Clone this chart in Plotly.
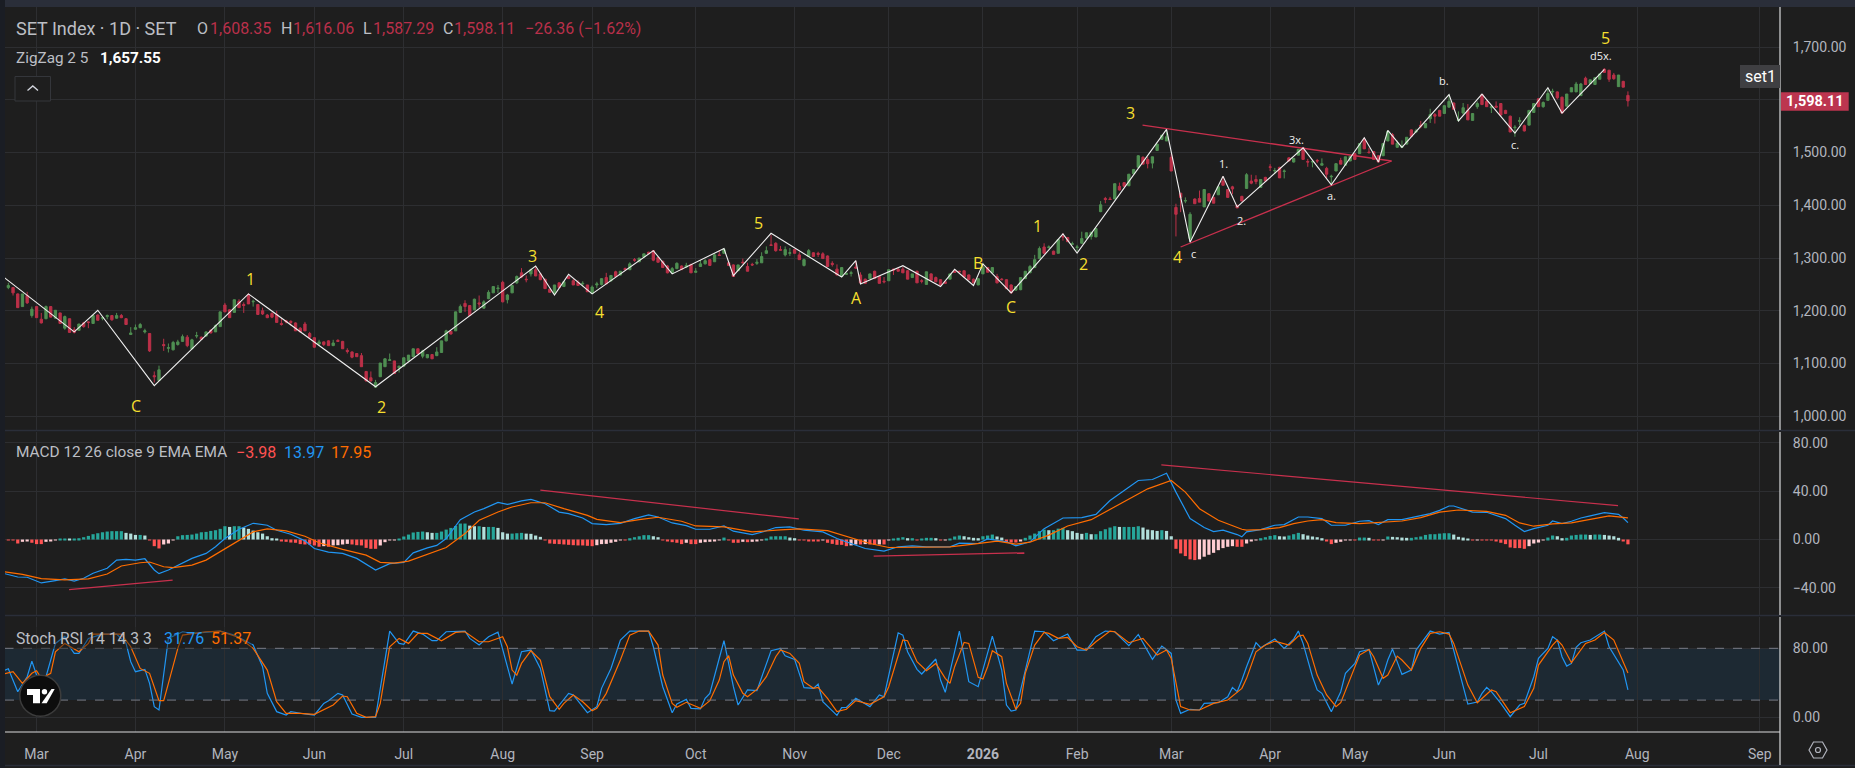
import plotly.graph_objects as go

W, H = 1855, 768
BG = "#1e1e1e"
GRID = "#2d2e31"
AXIS_TXT = "#b2b5be"
GREEN = "#4f8f52"
RED = "#bb3048"
TREND = "#c8304d"
BLUE = "#2196f3"
ORANGE = "#ff6d00"
YELLOW = "#f5df2e"
FONT = "Roboto"

month_bars = [6, 27, 46, 65, 84, 105, 124, 146, 167, 187, 207, 227, 247, 268, 286, 305, 325, 346, 372]
month_labels = ["Mar", "Apr", "May", "Jun", "Jul", "Aug", "Sep", "Oct", "Nov", "Dec", "<b>2026</b>", "Feb", "Mar",
                "Apr", "May", "Jun", "Jul", "Aug", "Sep"]

opens = [1244,1244,1232,1208,1229,1191,1208,1184,1185,1208,
1186,1196,1167,1185,1164,1163,1177,1179,1176,1192,
1186,1189,1191,1186,1191,1185,1155,1165,1168,1160,
1157,1077,1068,1136,1129,1126,1136,1142,1150,1128,
1152,1150,1152,1163,1160,1170,1211,1202,1197,1218,
1212,1230,1217,1212,1200,1192,1195,1193,1176,1181,
1180,1177,1167,1175,1157,1149,1137,1141,1143,1134,
1144,1142,1125,1122,1119,1115,1085,1073,1055,1075,
1094,1106,1105,1092,1095,1105,1113,1128,1114,1111,
1117,1115,1121,1143,1161,1162,1197,1214,1210,1202,
1215,1205,1223,1234,1242,1254,1221,1234,1253,1272,
1260,1270,1278,1270,1260,1241,1233,1253,1246,1265,
1257,1254,1251,1249,1233,1249,1250,1263,1257,1274,
1268,1280,1278,1297,1293,1302,1311,1314,1301,1294,
1285,1272,1280,1285,1283,1288,1273,1284,1289,1297,
1293,1306,1309,1291,1287,1276,1292,1284,1288,1290,
1291,1309,1325,1328,1316,1306,1309,1316,1306,1286,
1303,1310,1309,1308,1304,1290,1279,1265,1269,1271,
1283,1268,1260,1261,1275,1265,1256,1257,1279,1279,
1279,1276,1263,1275,1257,1250,1270,1263,1259,1255,
1260,1275,1275,1276,1268,1260,1249,1270,1282,1272,
1265,1260,1259,1249,1239,1240,1261,1272,1282,1299,
1321,1320,1313,1309,1341,1339,1326,1320,1328,1338,
1341,1340,1388,1413,1412,1412,1436,1443,1437,1460,
1472,1491,1487,1480,1504,1525,1522,1491,1396,1423,
1408,1337,1412,1413,1397,1422,1415,1420,1446,1430,
1435,1400,1417,1432,1446,1449,1434,1453,1473,1465,
1472,1464,1490,1482,1495,1509,1483,1482,1485,1476,
1470,1454,1465,1485,1476,1484,1498,1498,1525,1501,
1502,1494,1494,1522,1534,1510,1510,1516,1543,1539,
1552,1547,1564,1572,1580,1574,1586,1594,1561,1575,
1580,1561,1587,1610,1597,1585,1588,1593,1580,1569,
1547,1559,1551,1552,1576,1602,1587,1599,1615,1615,
1605,1588,1615,1615,1608,1641,1631,1629,1639,1658,
1656,1647,1625,1635,1608.35]

highs = [1253,1245,1233,1232,1236,1208,1208,1196,1210,1209,
1201,1196,1191,1185,1169,1175,1179,1180,1191,1193,
1188,1193,1192,1196,1194,1186,1169,1174,1177,1166,
1157,1085,1096,1147,1138,1143,1145,1155,1154,1147,
1160,1151,1161,1165,1174,1198,1215,1203,1221,1222,
1216,1233,1221,1212,1206,1194,1197,1200,1186,1183,
1182,1178,1169,1179,1160,1150,1145,1142,1144,1145,
1146,1143,1129,1123,1120,1120,1086,1085,1069,1101,
1110,1119,1105,1096,1111,1116,1128,1128,1126,1117,
1117,1131,1143,1164,1161,1198,1212,1220,1210,1223,
1229,1220,1239,1246,1249,1257,1232,1248,1267,1281,
1267,1280,1284,1272,1260,1241,1249,1254,1255,1266,
1260,1258,1256,1249,1248,1255,1262,1272,1268,1276,
1275,1282,1292,1300,1300,1308,1312,1314,1302,1295,
1287,1283,1292,1286,1291,1289,1281,1296,1298,1298,
1309,1314,1319,1293,1288,1287,1299,1291,1291,1298,
1311,1322,1344,1330,1323,1322,1319,1317,1311,1299,
1317,1311,1312,1311,1305,1294,1288,1282,1272,1276,
1295,1273,1261,1270,1276,1266,1264,1278,1280,1281,
1283,1277,1270,1276,1260,1274,1271,1265,1260,1256,
1270,1279,1276,1276,1269,1261,1261,1291,1283,1282,
1270,1262,1260,1250,1246,1264,1275,1287,1306,1322,
1328,1324,1314,1335,1347,1340,1331,1325,1350,1348,
1349,1356,1408,1416,1416,1441,1443,1444,1459,1468,
1495,1493,1492,1492,1516,1533,1544,1498,1403,1423,
1415,1387,1413,1428,1430,1423,1416,1435,1455,1431,
1437,1401,1418,1461,1458,1457,1449,1454,1478,1471,
1473,1468,1491,1489,1506,1510,1488,1486,1488,1489,
1473,1458,1479,1490,1492,1493,1499,1517,1528,1509,
1503,1495,1517,1542,1537,1523,1523,1529,1544,1545,
1560,1555,1583,1575,1581,1589,1610,1595,1578,1594,
1592,1574,1597,1611,1600,1590,1597,1594,1581,1570,
1552,1567,1553,1580,1593,1603,1597,1621,1621,1616,
1606,1611,1623,1634,1632,1644,1638,1642,1649,1660,
1657,1651,1647,1636,1616.06]

lows = [1241,1229,1206,1208,1213,1187,1187,1176,1184,1188,
1185,1176,1164,1159,1157,1162,1168,1167,1176,1182,
1182,1184,1181,1185,1186,1174,1155,1164,1167,1157,
1122,1064,1067,1124,1121,1125,1134,1141,1131,1127,
1148,1145,1151,1157,1160,1170,1198,1187,1197,1206,
1196,1213,1208,1193,1192,1186,1186,1177,1172,1176,
1172,1162,1160,1162,1148,1130,1133,1133,1134,1133,
1141,1128,1119,1110,1113,1094,1066,1066,1054,1075,
1094,1105,1081,1083,1095,1105,1113,1119,1110,1110,
1109,1114,1121,1142,1155,1162,1196,1198,1191,1201,
1206,1204,1222,1234,1234,1216,1214,1234,1251,1262,
1254,1265,1266,1258,1242,1235,1233,1244,1246,1261,
1249,1248,1246,1236,1232,1243,1248,1251,1255,1264,
1267,1277,1277,1293,1292,1301,1308,1294,1292,1282,
1271,1271,1279,1278,1281,1272,1272,1283,1288,1286,
1293,1304,1308,1286,1265,1276,1290,1275,1285,1287,
1291,1308,1323,1312,1315,1303,1304,1309,1297,1284,
1303,1303,1302,1299,1284,1284,1267,1265,1268,1265,
1280,1252,1252,1261,1261,1252,1252,1257,1268,1275,
1272,1260,1263,1253,1252,1250,1258,1254,1248,1251,
1260,1272,1273,1264,1259,1253,1249,1270,1273,1272,
1252,1258,1242,1233,1239,1239,1261,1272,1281,1298,
1308,1318,1307,1309,1333,1331,1325,1313,1327,1337,
1335,1340,1387,1404,1410,1412,1428,1436,1437,1460,
1472,1478,1470,1470,1504,1525,1522,1465,1341,1387,
1404,1330,1403,1406,1397,1408,1404,1420,1438,1415,
1421,1395,1408,1431,1440,1440,1434,1446,1465,1460,
1452,1451,1484,1481,1495,1487,1473,1472,1480,1476,
1451,1439,1465,1478,1476,1484,1487,1498,1507,1498,
1487,1482,1494,1522,1516,1509,1509,1516,1531,1537,
1546,1547,1556,1555,1569,1574,1586,1582,1559,1572,
1562,1561,1583,1591,1587,1575,1585,1571,1573,1539,
1530,1552,1540,1552,1576,1587,1585,1599,1607,1601,
1575,1588,1615,1615,1608,1629,1631,1629,1639,1652,
1634,1638,1625,1624,1587.29]

closes = [1248,1234,1206,1232,1215,1203,1187,1177,1208,1188,
1201,1176,1189,1159,1159,1175,1170,1178,1191,1182,
1187,1191,1183,1191,1187,1174,1158,1168,1174,1162,
1124,1075,1088,1134,1130,1140,1141,1151,1134,1145,
1153,1146,1160,1158,1172,1198,1198,1187,1221,1206,
1210,1213,1218,1193,1194,1187,1188,1178,1174,1179,
1178,1162,1160,1162,1150,1131,1141,1136,1134,1139,
1142,1128,1123,1112,1113,1094,1067,1067,1064,1101,
1109,1107,1081,1095,1111,1116,1128,1119,1124,1117,
1109,1122,1143,1162,1156,1198,1208,1208,1191,1222,
1213,1217,1235,1246,1243,1217,1230,1248,1265,1264,
1259,1278,1266,1259,1242,1235,1249,1244,1255,1261,
1249,1248,1252,1236,1245,1251,1261,1251,1267,1265,
1275,1278,1289,1296,1300,1308,1308,1296,1292,1282,
1272,1280,1290,1278,1286,1272,1275,1289,1295,1286,
1306,1305,1316,1286,1265,1287,1291,1275,1287,1292,
1303,1314,1324,1314,1315,1316,1310,1309,1297,1297,
1314,1303,1307,1299,1284,1288,1268,1282,1271,1272,
1281,1253,1252,1270,1261,1252,1255,1278,1277,1275,
1272,1260,1270,1253,1256,1274,1258,1255,1249,1252,
1270,1273,1274,1264,1259,1253,1261,1283,1273,1282,
1253,1259,1242,1234,1246,1263,1275,1284,1297,1318,
1309,1321,1307,1335,1340,1331,1327,1321,1337,1348,
1349,1356,1401,1411,1411,1441,1429,1436,1459,1468,
1494,1478,1479,1492,1516,1533,1530,1465,1383,1415,
1409,1383,1403,1406,1430,1408,1404,1435,1438,1415,
1431,1395,1408,1458,1442,1445,1449,1446,1472,1466,
1452,1465,1484,1489,1506,1487,1482,1483,1484,1479,
1459,1455,1479,1478,1492,1493,1487,1517,1507,1500,
1487,1482,1517,1540,1516,1518,1512,1529,1531,1541,
1550,1555,1572,1569,1569,1589,1597,1582,1562,1585,
1562,1574,1593,1591,1587,1587,1586,1571,1574,1539,
1548,1561,1541,1580,1593,1587,1595,1612,1616,1604,
1575,1611,1623,1630,1630,1629,1638,1642,1649,1652,
1639,1640,1647,1624,1598.11]

zigzag_bars = [-1,14,19,31,51,78,112,116,119,124,137,141,152,154,162,177,180,181,190,198,201,205,207,213,224,227,
               246,251,258,261,275,281,288,291,293,296,306,308,313,320,327,330,339]
zigzag_vals = [1264,1160,1201,1058,1232,1056,1285,1230,1269,1232,1314,1270,1318,1266.5,1347,1264,1295,1251,1285.5,1246,
               1278.5,1248,1289,1234,1346,1309.5,1544,1330,1455,1397,1509,1439,1528,1482,1542,1510,1610,1560,1611,1537,
               1623,1575,1657.55]

wedge_upper_bars = [240.9, 293.8]
wedge_upper_vals = [1552, 1484]
wedge_lower_bars = [249, 293.8]
wedge_lower_vals = [1321, 1484]

yellow_texts = ["C", "1", "2", "3", "4", "5", "A", "B", "C", "1", "2", "3", "4", "5"]
yellow_bars = [27.2, 51.4, 79.3, 111.3, 125.5, 159.4, 180.2, 206, 213, 218.5, 228.3, 238.3, 248.3, 339.2]
yellow_vals = [1019.5, 1260.5, 1017, 1304.5, 1198.3, 1367, 1224.8, 1291.2, 1207.8, 1361.3, 1288.2, 1575.5, 1302.6, 1717.7]
white_texts = ["c", "1.", "2.", "3x.", "a.", "b.", "c.", "d5x."]
white_bars = [251.8, 258.2, 262, 273.6, 281.1, 305, 320.1, 338.3]
white_vals = [1309, 1479.6, 1370.8, 1525.1, 1419, 1636.2, 1516.2, 1683.6]

macd_bars = [-1,2,4,7,10,12,14,16,18,21,23,25,27,29,31,32,34,37,39,42,44,46,49,52,55,57,60,63,65,68,71,74,76,78,81,84,86,89,91,93,96,99,101,104,106,109,111,114,117,119,122,124,127,
             130,133,136,138,141,144,146,149,152,154,158,160,163,166,169,173,176,179,182,186,189,192,195,200,202,206,208,212,214,217,220,224,228,231,234,237,240,243,246,248,251,254,256,258,
             261,262,263,266,269,271,274,276,279,281,284,287,289,291,293,296,298,302,304,306,307,309,311,314,318,320,322,324,327,328,330,332,334,336,339,342,343,344]
macd_vals = [-28,-31,-31.2,-35.9,-34,-32.6,-34.3,-32,-27.9,-23.8,-17,-16.4,-17,-15.9,-25.2,-28.2,-25.2,-19.7,-15.6,-11.5,-6,0.8,8.5,13.4,11.8,7.7,4.4,-1.1,-7.4,-10.4,-11.5,-15.6,-20.6,-25.2,-20,-18.9,-11,-6.9,-4.9,0.8,16.4,22.7,25.5,30.7,29,32,33.2,29.6,22.7,21.4,17.8,13.2,12.3,
             13.4,17.3,20.3,18.6,13.7,11.5,8.5,8.5,11.2,6.9,4.1,6,9.9,10.4,7.7,6.3,0.8,-3.3,-7.4,-9.6,-6,-5.2,-6,-6,-3,-3.3,0.5,-1.9,-5.2,-1.9,9,17.8,18.1,20.8,32.3,40.6,48.8,49.6,54.8,39.2,17.3,9.9,6.6,7.7,
             4.1,2.2,6.3,8.2,11.8,12.3,18.6,18.6,17.3,11.8,11.8,15.1,15.6,12.3,16.4,16.4,18.1,21.4,24.1,27.7,27.7,25.2,22.7,22.5,17.3,11.8,6.6,9,11.8,15.3,13.2,15.1,17.8,19.5,22.2,20.8,17.8,13.97]
signal_bars = [-1,3,7,12,17,21,24,28,30,33,35,39,42,45,49,52,55,59,63,66,71,76,79,82,85,89,93,97,100,104,107,111,114,118,123,125,
               130,134,138,143,146,152,158,164,168,174,179,183,187,194,200,205,210,214,217,221,225,230,234,238,242,247,250,253,257,262,
               263,266,270,273,276,279,282,287,291,296,300,304,308,314,318,321,324,328,332,336,340,344]
signal_vals = [-26.6,-28.8,-32.3,-33.4,-32.6,-28.5,-21.9,-19.2,-18.6,-22.5,-23.3,-21.1,-17,-10.1,-1.1,6.3,8.8,7.1,2.7,-2.7,-8.2,-12.9,-18.9,-19.5,-17.8,-12.1,-6.6,4.9,15.9,22.7,26.9,30.4,30.4,25.5,20,16.7,
               14,16.4,18.4,15.1,11.2,10.4,6.3,7.9,8.8,7.4,1.6,-3.3,-6.6,-6,-6,-3.8,-1.4,-3.8,-2.2,3.6,11.2,16.4,24.9,33.7,41.9,48.8,39.2,25.5,15.9,8.5,
               7.7,8.2,9.9,13.2,15.3,16.4,14,13.2,14,15.3,18.1,22.7,24.4,23.3,20,13.7,11,12.9,13.7,16.4,19.5,17.95]

macd_hist = [-0.8,-0.8,-3.3,-1.9,-1.6,-2.7,-3.8,-3.8,-1.9,-1.6,
-0.3,0.3,0.5,0.3,0.8,1.1,1.9,3,4.4,5.2,
6,6.6,6.9,6.9,6.9,5.5,4.9,3.8,3.8,3.3,
-0.1,-5.5,-7.4,-4.1,-3.3,-0.8,2.7,3.6,3.8,4.1,
4.9,6,6.3,7.1,7.7,8.8,11,10.4,11,11,
9.9,8.8,7.4,6,4.9,2.7,1.1,0.3,-1.4,-1.9,
-2.5,-2.7,-3.8,-4.1,-4.1,-4.9,-6,-5.5,-6,-4.9,
-4.7,-4.1,-3.6,-4.1,-4.7,-4.9,-6.9,-7.7,-7.7,-4.9,
-2.2,-0.8,-0.5,0.5,2.5,4.1,5.8,6.3,6.6,6,
5.5,5.5,6.6,8.2,9.6,11.2,13.2,13.2,11.5,11,
11,10.4,10.4,10.4,9.6,6,4.9,4.9,5.2,5.5,
4.9,4.7,3.3,2.2,-0.8,-3.3,-3.6,-3.8,-4.1,-4.4,
-4.7,-4.9,-4.9,-5.2,-5.5,-4.7,-3.8,-3.6,-2.7,-1.9,
-0.5,-0.5,1.1,1.9,2.7,3.6,3.6,2.7,1.9,-0.3,
-1.6,-2.2,-2.7,-3.8,-2.7,-3.8,-3.8,-2.7,-2.2,-1.9,
-1.4,-0.3,1.6,-0.3,-2.7,-2.7,-1.9,-2.2,-1.9,-1.4,
-0.8,0.8,2.5,2.7,2.7,2.7,1.6,1.1,-0.3,-0.8,
-1.1,-1.1,-1.6,-0.8,-2.7,-3.6,-4.4,-4.4,-5.5,-4.9,
-4.1,-4.1,-3.8,-4.1,-4.4,-4.1,-4.1,-0.8,0.3,1.4,
1.9,1.1,1.1,-0.5,0.3,1.4,1.4,1.1,-0.5,-0.3,
0.8,2.5,3.3,2.7,1.9,1.4,1.1,2.7,3.3,4.1,
2.5,1.6,-2.5,-2.5,-2.5,-1.1,1.4,3.3,4.9,6.9,
8.2,7.7,7.7,9,9.6,7.7,6.9,5.5,4.7,5.5,
4.4,4.4,6.9,8.5,9.9,11,10.4,10.4,10.4,10.4,
11,9.9,8.2,7.7,7.1,7.7,7.1,2.7,-7.7,-11.5,
-13.7,-16.4,-17,-16.4,-14.2,-12.6,-11,-8.8,-7.1,-6,
-5.5,-6,
-6,-3.3,-1.4,-0.3,1.1,1.9,3,3.6,2.7,2.5,
3.3,4.4,5.5,4.4,3.3,2.5,1.9,1.1,-1.1,-3.8,
-2.7,-1.9,-0.8,-0.3,-0.3,1.6,1.6,1.4,-0.3,-0.5,
-0.3,2.5,2.2,1.9,1.6,1.4,1.4,1.9,2.5,3.8,
4.4,4.4,4.9,5.2,5.2,4.1,2.2,1.6,0.3,-0.5,
-0.3,-0.5,-0.5,-0.8,-1.6,-2.7,-3.8,-6.6,-7.1,-7.1,
-7.7,-5.5,-3.3,-2.5,-0.8,1.6,3.3,2.7,1.1,1.4,
3.3,3.8,4.1,4.1,3.8,4.1,4.1,3.8,3.3,2.7,
1.4,-1.4,-3.98]

macd_trend_segments = [([12.9, 34.9], [-41.5, -33.5]), ([113, 167.9], [40.8, 17]),
                       ([183.8, 215.8], [-13.7, -11]), ([244.9, 341.9], [61.7, 28])]

k_bars = [-1,0,2,4,5,6,7,8,10,12,13,14,15,17,20,23,25,26,27,29,30,31,32,33,34,37,39,45,48,52,54,55,57,59,60,63,65,67,68,70,71,73,75,78,79,81,83,84,86,88,90,91,93,97,98,100,102,104,106,107,109,111,113,115,116,119,120,122,123,125,126,128,130,
          132,136,137,139,141,142,144,145,147,148,149,152,154,155,157,159,162,164,165,167,169,171,172,173,176,177,178,180,183,185,186,189,190,191,193,194,197,198,199,202,204,206,209,211,212,213,214,216,218,220,222,225,227,229,231,233,235,238,240,243,245,247,248,249,251,253,254,257,259,260,
          261,262,263,265,266,269,271,273,274,275,277,278,279,281,283,284,286,287,289,291,292,293,294,296,298,299,302,304,306,308,310,312,313,314,315,317,319,321,322,324,325,327,328,329,330,331,332,333,334,336,339,340,343,344]
k_vals = [54,56.4,29.7,47.1,65.2,49,45.2,47.1,85.7,94,81.8,74.1,74.1,91.5,96.5,96.5,85.7,64.5,52.9,55.6,39.4,12.4,8.5,51,91.5,99.2,97.3,100,95.3,83.8,58.7,27.8,6.6,2.7,6.6,3.9,2.7,16.2,19.3,27.8,25.9,3.9,0,0,33.6,100,85.7,84.5,100,96.5,88.8,88.8,99.2,100,91.5,83.8,93.4,98.8,58.7,38.6,76,78,56.7,7.7,7.3,27.8,25.9,12.4,5.4,12.4,33.6,56.7,89.6,
          100,100,81.8,35.5,5.4,15.4,20.8,10.4,9.7,22,27.8,88.8,35.5,14.3,31.7,30.9,77.2,79.9,71.4,67.2,34.4,33.6,38.6,18.1,2.3,11.2,11.6,22,12.4,25.9,23.9,98,95.3,76,55.6,50.2,67.6,43.2,29,100,41.3,35.5,94.2,54.8,14.3,7.3,8.5,52.9,100,99.2,88.8,96.5,78,78,93.4,100,99.2,83,96.1,67.2,82.6,74.1,20.1,4.6,9.3,8.5,16.2,17,23.9,34.7,
          29.7,43.2,58.7,86.5,80.7,90.7,79.9,90.7,100,85.7,47.1,31.7,27.8,6.6,29.7,51,62.5,76,78.7,37.4,49,66.4,79.1,49.8,54.8,78,100,96.5,98.4,56.7,15.4,17.8,27.8,34.7,29.7,16.2,0.8,14.3,16.2,47.1,68.3,79.9,93.4,89.6,70.3,59.4,62.5,81.1,86.5,89.6,100,81.8,54.8,31.76]
d_bars = [-1,1,3,5,6,7,9,10,12,15,17,18,24,26,28,30,32,33,34,36,37,42,45,49,52,55,57,59,62,65,69,71,72,74,76,78,79,81,83,85,87,89,92,95,97,100,102,105,106,107,108,109,111,113,115,117,118,120,122,124,125,127,130,
          132,134,136,138,139,141,142,144,147,149,151,152,153,154,156,157,159,161,163,164,166,168,169,171,172,174,176,178,180,183,186,187,189,190,191,193,195,197,199,200,201,203,204,206,207,208,209,211,212,214,215,216,218,220,221,223,225,227,229,231,234,235,238,241,244,246,247,249,251,253,256,259,262,
          263,265,267,269,272,274,275,276,278,280,282,283,286,287,289,290,292,293,295,296,298,300,302,304,306,307,310,312,315,316,319,322,324,325,328,329,330,332,335,337,339,341,344]
d_vals = [50.2,52.9,39.4,51,54,45.2,51,76,85.7,76,85.7,96.5,96.5,81.8,56.7,51,19.3,19.3,39.4,79.9,95.3,99.2,100,92.6,79.9,54.8,18.1,4.6,4.6,3.5,14.3,24.7,23.9,4.6,0,0.8,16.2,81.8,91.5,85.7,97.3,97.3,88.8,98.4,99.2,87.6,87.6,93.4,81.8,54.8,49,62.5,77.2,66.4,23.9,9.3,16.2,25.9,18.1,7.7,10.4,27.8,66.4,
          95.3,100,100,83.8,49,16.2,11.6,17.4,10.4,19.3,43.2,64.5,71.4,49,27.8,23.9,32.4,47.1,70.3,78,74.1,62.5,41.3,33.6,34.7,22,6.6,9.3,19.3,15.1,23.9,35.5,72.2,89.6,88.8,64.5,54,62.5,45.2,39.4,58.7,86.9,85.7,46.3,44.4,58.7,77.2,70.3,39.4,9.3,16.2,51,83.8,98.4,97.3,91.5,92.6,81.8,78,87.6,100,99.2,86.5,91.5,72.2,78,68.3,12.4,8.5,8.5,16.2,20.1,33.6,
          45.2,76,83.8,88.4,83.8,94.2,95.3,85.7,49,25.9,12.4,17,58.7,72.2,78.7,70.3,45.2,49,71,66.4,54.8,79.9,97.3,99.2,96.5,85.7,37.4,17,31.7,29.7,5.4,12.4,33.6,60.6,83.8,89.6,83.8,63.3,85.7,89.6,98.4,89.6,51.37]

price_ticks = [1000, 1100, 1200, 1300, 1400, 1500, 1600, 1700]
price_tick_labels = ["1,000.00", "1,100.00", "1,200.00", "1,300.00", "1,400.00", "1,500.00", "", "1,700.00"]
macd_ticks = [-40, 0, 40, 80]
stoch_ticks = [0, 80]


def px(x, y):
    return x / W, 1 - y / H


def yspan(top, bottom):
    return [1 - bottom / H, 1 - top / H]


XRANGE = [-0.707, 376.3]
XDOM = [5 / W, 1780 / W]
bars = list(range(len(closes)))

hist_colors = []
for i, v in enumerate(macd_hist):
    prev = macd_hist[i - 1] if i else v
    if v >= 0:
        hist_colors.append("#26a69a" if v >= prev else "#b2dfdb")
    else:
        hist_colors.append("#ffcdd2" if v > prev else "#ff5252")

fig = go.Figure()
fig.add_trace(go.Candlestick(x=bars, open=opens, high=highs, low=lows, close=closes,
                             increasing=dict(line=dict(color=GREEN, width=1), fillcolor=GREEN),
                             decreasing=dict(line=dict(color=RED, width=1), fillcolor=RED),
                             whiskerwidth=0, xaxis="x", yaxis="y", hoverinfo="skip"))
fig.add_trace(go.Scatter(x=wedge_upper_bars, y=wedge_upper_vals, mode="lines", line=dict(color=TREND, width=1.3), xaxis="x", yaxis="y"))
fig.add_trace(go.Scatter(x=wedge_lower_bars, y=wedge_lower_vals, mode="lines", line=dict(color=TREND, width=1.3), xaxis="x", yaxis="y"))
fig.add_trace(go.Scatter(x=zigzag_bars, y=zigzag_vals, mode="lines", line=dict(color="#f0f0f0", width=1.1), xaxis="x", yaxis="y"))

fig.add_trace(go.Bar(x=bars, y=macd_hist, marker=dict(color=hist_colors, line=dict(width=0)), width=0.68, xaxis="x2", yaxis="y2"))
fig.add_trace(go.Scatter(x=macd_bars, y=macd_vals, mode="lines", line=dict(color=BLUE, width=1.2), xaxis="x2", yaxis="y2"))
fig.add_trace(go.Scatter(x=signal_bars, y=signal_vals, mode="lines", line=dict(color=ORANGE, width=1.2), xaxis="x2", yaxis="y2"))
for seg_x, seg_y in macd_trend_segments:
    fig.add_trace(go.Scatter(x=seg_x, y=seg_y, mode="lines", line=dict(color=TREND, width=1.2), xaxis="x2", yaxis="y2"))

fig.add_trace(go.Scatter(x=k_bars, y=k_vals, mode="lines", line=dict(color=BLUE, width=1.2), xaxis="x3", yaxis="y3"))
fig.add_trace(go.Scatter(x=d_bars, y=d_vals, mode="lines", line=dict(color=ORANGE, width=1.2), xaxis="x3", yaxis="y3"))

xcommon = dict(range=XRANGE, domain=XDOM, tickmode="array", tickvals=month_bars, showgrid=True, gridcolor=GRID, gridwidth=1,
               zeroline=False, showline=False, fixedrange=True, rangeslider=dict(visible=False))
ycommon = dict(side="right", showgrid=True, gridcolor=GRID, gridwidth=1, zeroline=False, showline=False, fixedrange=True,
               tickmode="array", ticks="outside", ticklen=9, tickcolor="rgba(0,0,0,0)", tickformat=",.2f",
               tickfont=dict(family=FONT, size=14, color=AXIS_TXT))

fig.update_layout(
    width=W, height=H, margin=dict(l=0, r=0, t=0, b=0), autosize=False,
    paper_bgcolor=BG, plot_bgcolor=BG, showlegend=False, barmode="overlay", hovermode=False,
    xaxis=dict(xcommon, anchor="y", showticklabels=False),
    xaxis2=dict(xcommon, anchor="y2", showticklabels=False),
    xaxis3=dict(xcommon, anchor="y3", ticktext=month_labels, ticks="outside", ticklen=9, tickcolor="rgba(0,0,0,0)",
                tickangle=0, tickfont=dict(family=FONT, size=14, color=AXIS_TXT)),
    yaxis=dict(ycommon, domain=yspan(7, 430), range=[974, 1776], tickvals=price_ticks, ticktext=price_tick_labels, anchor="x"),
    yaxis2=dict(ycommon, domain=yspan(431.5, 615), range=[-62.4, 89.3], tickvals=macd_ticks, anchor="x2"),
    yaxis3=dict(ycommon, domain=yspan(617, 732), range=[-17, 116.3], tickvals=stoch_ticks, anchor="x3"),
)


def rect(x0, y0, x1, y1, **kw):
    a, b = px(x0, y0)
    c, d = px(x1, y1)
    return dict(type="rect", xref="paper", yref="paper", x0=a, y0=b, x1=c, y1=d, **kw)


def path(points, close=True, **kw):
    parts = []
    for k, (x, y) in enumerate(points):
        a, b = px(x, y)
        parts.append(("M" if k == 0 else "L") + f"{a:.6f},{b:.6f}")
    return dict(type="path", xref="paper", yref="paper", path=" ".join(parts) + (" Z" if close else ""), **kw)


def circle(cx, cy, r, **kw):
    a, b = px(cx - r, cy - r)
    c, d = px(cx + r, cy + r)
    return dict(type="circle", xref="paper", yref="paper", x0=a, y0=b, x1=c, y1=d, **kw)


def seg(x0, y0, x1, y1, color, width=1):
    a, b = px(x0, y0)
    c, d = px(x1, y1)
    return dict(type="line", xref="paper", yref="paper", x0=a, y0=b, x1=c, y1=d, line=dict(color=color, width=width))


LINEC = "#d9dadc"
SEP = "#2a2e39"
shapes = [
    dict(type="rect", xref="x3 domain", yref="y3", x0=0, x1=1, y0=20, y1=80, fillcolor="rgba(33,150,243,0.10)",
         line=dict(width=0), layer="below"),
    dict(type="line", xref="x3 domain", yref="y3", x0=0, x1=1, y0=80, y1=80, line=dict(color="#787b86", width=1, dash="dash")),
    dict(type="line", xref="x3 domain", yref="y3", x0=0, x1=1, y0=20, y1=20, line=dict(color="#787b86", width=1, dash="dash")),
    rect(0, 0, W, 7, fillcolor=SEP, line=dict(width=0)),
    rect(0, 0, 5, H, fillcolor="#1a1d24", line=dict(width=0)),
    seg(5, 430.5, W, 430.5, SEP, 1.5),
    seg(5, 615.5, W, 615.5, SEP, 1.5),
    seg(5, 765.5, W, 765.5, SEP, 1.5),
    seg(5, 732, 1780, 732, LINEC, 1.2),
    seg(1780, 7, 1780, 430, LINEC, 1.2),
    seg(1780, 432, 1780, 615, LINEC, 1.2),
    seg(1780, 617, 1780, 765, LINEC, 1.2),
    rect(13, 627, 252, 649, fillcolor="rgba(30,30,30,0.45)", line=dict(width=0)),
    rect(15, 76.5, 50.5, 101, line=dict(color="#34363b", width=1), fillcolor=BG),
    path([(27.5, 90.5), (32.8, 86), (38, 90.5)], close=False, line=dict(color="#d1d4dc", width=1.4)),
    rect(1740, 65, 1780, 88, fillcolor="#3f3f42", line=dict(width=0)),
    rect(1781, 92.3, 1848.7, 110.7, fillcolor="#bc354f", line=dict(width=0)),
    circle(40.3, 695.7, 20.5, fillcolor="#0d0d0d", line=dict(color="#3c3c3c", width=1.5)),
    path([(27, 689), (40, 689), (40, 703.3), (33, 703.3), (33, 695), (27, 695)], fillcolor="#ffffff", line=dict(width=0)),
    circle(44.5, 691.7, 2.7, fillcolor="#ffffff", line=dict(width=0)),
    path([(51.5, 689), (54.7, 689), (46.7, 703.3), (41.5, 703.3)], fillcolor="#ffffff", line=dict(width=0)),
    path([(1809, 750), (1813.5, 742), (1822.5, 742), (1827, 750), (1822.5, 758), (1813.5, 758)],
         line=dict(color=AXIS_TXT, width=1.2)),
    circle(1818, 750, 2.5, line=dict(color=AXIS_TXT, width=1.2)),
]
fig.update_layout(shapes=shapes)

annotations = []


def label(text, x, y, size, color, anchor="left", family=FONT):
    a, b = px(x, y)
    annotations.append(dict(text=text, x=a, y=b, xref="paper", yref="paper", xanchor=anchor, yanchor="middle",
                            showarrow=False, borderpad=0, font=dict(family=family, size=size, color=color)))


VAL_RED = "#b9304a"
LEG = "#bcbec4"
label("SET Index · 1D · SET", 15, 28, 18, LEG)
label("O", 196, 28, 16, LEG)
label("1,608.35", 209, 28, 16, VAL_RED)
label("H", 280, 28, 16, LEG)
label("1,616.06", 292, 28, 16, VAL_RED)
label("L", 362, 28, 16, LEG)
label("1,587.29", 372, 28, 16, VAL_RED)
label("C", 442, 28, 16, LEG)
label("1,598.11", 453, 28, 16, VAL_RED)
label("−26.36 (−1.62%)", 524, 28, 16, VAL_RED)
label("ZigZag 2 5", 15, 58, 15.3, LEG)
label("<b>1,657.55</b>", 99, 58, 15.3, "#ffffff")
label("MACD 12 26 close 9 EMA EMA", 15, 452, 15.4, LEG)
label("−3.98", 235, 452, 16, "#ff5252")
label("13.97", 283, 452, 16, BLUE)
label("17.95", 330, 452, 16, ORANGE)
label("Stoch RSI 14 14 3 3", 15, 638, 15.7, LEG)
label("31.76", 163, 638, 16, BLUE)
label("51.37", 210, 638, 16, ORANGE)
label("set1", 1760, 77, 16, "#ffffff", anchor="center")
label("<b>1,598.11</b>", 1815, 101.5, 14.5, "#ffffff", anchor="center")

for t, b, v in zip(yellow_texts, yellow_bars, yellow_vals):
    annotations.append(dict(text=t, x=b, y=v, xref="x", yref="y", showarrow=False, xanchor="center", yanchor="middle",
                            font=dict(family="Open Sans", size=16, color=YELLOW)))
for t, b, v in zip(white_texts, white_bars, white_vals):
    annotations.append(dict(text=t, x=b, y=v, xref="x", yref="y", showarrow=False, xanchor="center", yanchor="middle",
                            font=dict(family="Open Sans", size=11, color="#f0f0f0")))
fig.update_layout(annotations=annotations)

fig.write_html("out.html", config={"displayModeBar": False},
               post_script="document.body.style.margin='0';document.body.style.overflow='hidden';document.body.style.background='#1e1e1e';")
